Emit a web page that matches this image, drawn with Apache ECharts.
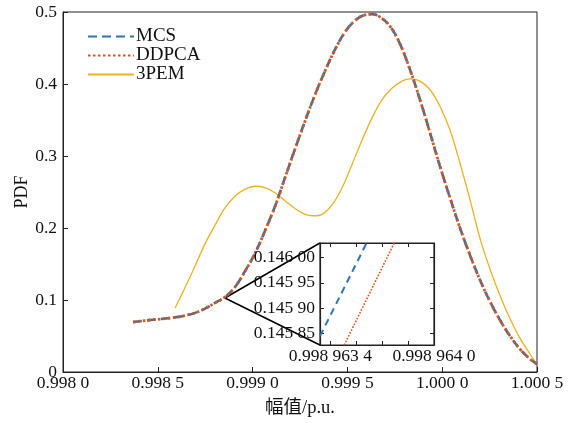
<!DOCTYPE html>
<html>
<head>
<meta charset="utf-8">
<script src="https://cdn.jsdelivr.net/npm/echarts@6/dist/echarts.min.js"></script>
<style>html,body{margin:0;padding:0;background:#fff}#c{width:573px;height:423px}</style>
</head>
<body>
<div id="c"></div>
<script>
// ---- data ----
const xTicks = [0.9980, 0.9985, 0.9990, 0.9995, 1.0000, 1.0005];
const yTicks = [0, 0.1, 0.2, 0.3, 0.4, 0.5];

const mcsX = [0.998369,0.998459,0.998564,0.998670,0.998749,0.998802,0.998854,0.998907,0.998960,0.999013,0.999065,0.999118,0.999171,0.999224,0.999276,0.999329,0.999382,0.999435,0.999487,0.999540,0.999593,0.999630,0.999672,0.999725,0.999777,0.999830,0.999883,0.999936,0.999988,1.000041,1.000094,1.000147,1.000199,1.000252,1.000305,1.000358,1.000410,1.000463,1.000500];
const mcsY = [0.0694,0.0722,0.0750,0.0800,0.0880,0.0960,0.1040,0.1180,0.1400,0.1650,0.1960,0.2300,0.2700,0.3100,0.3480,0.3850,0.4180,0.4480,0.4720,0.4880,0.4960,0.4970,0.4930,0.4800,0.4560,0.4200,0.3780,0.3320,0.2860,0.2420,0.2000,0.1620,0.1280,0.0980,0.0720,0.0500,0.0320,0.0180,0.0110];
const ddpcaX = mcsX.slice();
const ddpcaY = mcsY.slice();

const pemX = [0.998591,0.998643,0.998696,0.998749,0.998802,0.998854,0.998907,0.998960,0.999013,0.999065,0.999118,0.999171,0.999224,0.999276,0.999319,0.999366,0.999419,0.999472,0.999524,0.999577,0.999630,0.999682,0.999735,0.999788,0.999830,0.999883,0.999936,0.999988,1.000041,1.000094,1.000147,1.000199,1.000252,1.000305,1.000358,1.000410,1.000463,1.000500];
const pemY = [0.0889,0.1170,0.1470,0.1780,0.2040,0.2280,0.2440,0.2540,0.2580,0.2560,0.2490,0.2380,0.2270,0.2190,0.2170,0.2190,0.2320,0.2560,0.2880,0.3220,0.3530,0.3780,0.3940,0.4040,0.4070,0.4040,0.3920,0.3690,0.3360,0.2900,0.2390,0.1860,0.1430,0.1060,0.0740,0.0470,0.0250,0.0110];

// zoomed inset
const insetXTicks = [0.9989634, 0.99896355, 0.9989637, 0.99896385, 0.9989640];
const insetXLabels = [0.9989634, 0.9989640];
const insetYTicks = [0.14585, 0.14590, 0.14595, 0.14600];
const insetMcsX = [0.99896334, 0.99896361];
const insetMcsY = [0.1458446, 0.1460292];
const insetDdpcaX = [0.99896348, 0.99896377];
const insetDdpcaY = [0.1458268, 0.1460292];

// connector from the zoomed point to the inset box corners
const connX = [0.999355, 0.998854, 0.999355];
const connY = [0.1792, 0.1028, 0.0375];

const zip = (a, b) => a.map((v, i) => [v, b[i]]);
function spaced(v, n) {
  const s = v.toFixed(n);
  const [ip, dp] = s.split('.');
  if (!dp) return ip;
  const g = dp.match(/.{1,3}/g).join(' ');
  return ip + '.' + g;
}

const FONT = '"Liberation Serif","Times New Roman","Noto Sans CJK SC",serif';
const C_MCS = '#2E74B5', C_DD = '#D9541A', C_PEM = '#EDB120';
const AX = '#222';
const FS = 17.5;

const chart = echarts.init(document.getElementById('c'), null, {renderer: 'canvas'});
chart.setOption({
  animation: false,
  backgroundColor: '#fff',
  textStyle: {fontFamily: FONT},
  legend: {
    data: ['MCS', 'DDPCA', '3PEM'],
    left: 82, top: 22, orient: 'vertical', itemGap: 0,
    itemWidth: 46, itemHeight: 18,
    itemStyle: {opacity: 0},
    textStyle: {fontFamily: FONT, fontSize: 19, color: '#111', padding: [0,0,0,-3], lineHeight: 18},
    selectedMode: false
  },
  grid: [
    {left: 63, top: 12, right: 36, bottom: 51, show: true, borderColor: AX, borderWidth: 1, backgroundColor: 'transparent'},
    {left: 320, top: 243, width: 114, height: 102, show: true, borderColor: AX, borderWidth: 1.2, backgroundColor: '#fff', z: 5}
  ],
  xAxis: [
    {type: 'value', gridIndex: 0, min: 0.998, max: 1.0005, interval: 0.0005,
     name: '幅值/p.u.', nameLocation: 'middle', nameGap: 27, nameMoveOverlap: false,
     nameTextStyle: {fontFamily: FONT, fontSize: 18.5, color: '#111'},
     axisLine: {lineStyle: {color: AX}}, splitLine: {show: false},
     axisTick: {inside: true, length: 5, lineStyle: {color: AX}},
     axisLabel: {fontFamily: FONT, fontSize: FS, color: '#111', margin: 3, formatter: v => spaced(v, 4)}},
    {type: 'value', gridIndex: 1, min: 0.99896334, max: 0.99896400,
     axisLine: {lineStyle: {color: AX, width: 1.2}}, splitLine: {show: false},
     axisTick: {inside: true, length: 4, lineStyle: {color: AX}, customValues: insetXTicks},
     axisLabel: {fontFamily: FONT, fontSize: FS, color: '#111', margin: 3, customValues: insetXLabels, formatter: v => spaced(v, 7), showMinLabel: true, showMaxLabel: true, hideOverlap: false},
     z: 6},
    {type: 'value', gridIndex: 1, position: 'top', min: 0.99896334, max: 0.99896400,
     axisLine: {lineStyle: {color: AX, width: 1.2}}, splitLine: {show: false},
     axisTick: {inside: true, length: 4, lineStyle: {color: AX}, customValues: insetXTicks},
     axisLabel: {show: false}, z: 6}
  ],
  yAxis: [
    {type: 'value', gridIndex: 0, min: 0, max: 0.5, interval: 0.1,
     name: 'PDF', nameLocation: 'middle', nameGap: 32, nameRotate: 90, nameMoveOverlap: false,
     nameTextStyle: {fontFamily: FONT, fontSize: 18, color: '#111'},
     axisLine: {show: true, lineStyle: {color: AX}}, splitLine: {show: false},
     axisTick: {show: true, inside: true, length: 5, lineStyle: {color: AX}},
     axisLabel: {fontFamily: FONT, fontSize: FS, color: '#111', margin: 6, formatter: v => v === 0 ? '0' : v.toFixed(1)}},
    {type: 'value', gridIndex: 1, min: 0.145827, max: 0.146029,
     axisLine: {show: true, lineStyle: {color: AX, width: 1.2}}, splitLine: {show: false},
     axisTick: {show: true, inside: true, length: 4, lineStyle: {color: AX}, customValues: insetYTicks},
     axisLabel: {fontFamily: FONT, fontSize: FS, color: '#111', margin: 5, customValues: insetYTicks, formatter: v => spaced(v, 5)},
     z: 6},
    {type: 'value', gridIndex: 1, position: 'right', min: 0.145827, max: 0.146029,
     axisLine: {show: true, lineStyle: {color: AX, width: 1.2}}, splitLine: {show: false},
     axisTick: {show: true, inside: true, length: 4, lineStyle: {color: AX}, customValues: insetYTicks},
     axisLabel: {show: false}, z: 6}
  ],
  series: [
    {name: 'connector', type: 'line', xAxisIndex: 0, yAxisIndex: 0, data: zip(connX, connY),
     symbol: 'none', lineStyle: {color: '#000', width: 1.6}, z: 1, silent: true},
    {name: '3PEM', type: 'line', xAxisIndex: 0, yAxisIndex: 0, data: zip(pemX, pemY), smooth: 0.35,
     symbol: 'none', lineStyle: {color: C_PEM, width: 1.3}, itemStyle: {color: C_PEM}, z: 2},
    {name: 'MCS', type: 'line', xAxisIndex: 0, yAxisIndex: 0, data: zip(mcsX, mcsY), smooth: 0.4,
     symbol: 'none', lineStyle: {color: C_MCS, width: 2.6, type: [9, 5]}, itemStyle: {color: C_MCS}, z: 3},
    {name: 'DDPCA', type: 'line', xAxisIndex: 0, yAxisIndex: 0, data: zip(ddpcaX, ddpcaY), smooth: 0.4,
     symbol: 'none', lineStyle: {color: C_DD, width: 2.8, type: [2.5, 2.5]}, itemStyle: {color: C_DD}, z: 4},
    {name: 'MCS', type: 'line', xAxisIndex: 1, yAxisIndex: 1, data: zip(insetMcsX, insetMcsY),
     symbol: 'none', clip: true, lineStyle: {color: C_MCS, width: 2, type: [7, 5]}, z: 7},
    {name: 'DDPCA', type: 'line', xAxisIndex: 1, yAxisIndex: 1, data: zip(insetDdpcaX, insetDdpcaY),
     symbol: 'none', clip: true, lineStyle: {color: C_DD, width: 1.6, type: [1.6, 1.6]}, z: 7}
  ]
});
</script>
</body>
</html>
